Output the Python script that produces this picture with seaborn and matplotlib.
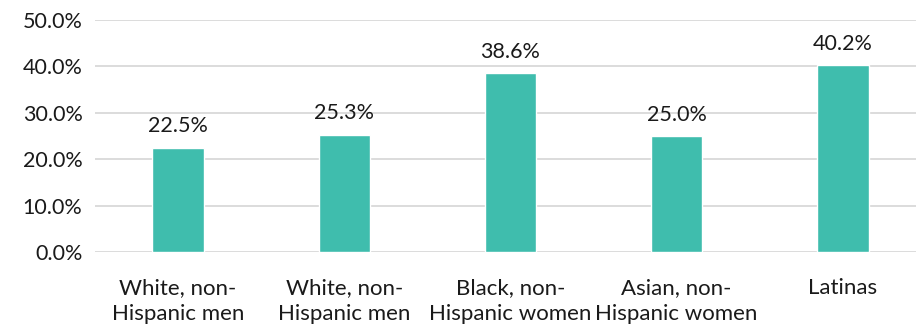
import matplotlib
matplotlib.use("Agg")
import matplotlib.pyplot as plt
import seaborn as sns
import pandas as pd

categories = [
    "White, non-\nHispanic men",
    "White, non-\nHispanic men",
    "Black, non-\nHispanic women",
    "Asian, non-\nHispanic women",
    "Latinas",
]
values = [22.5, 25.3, 38.6, 25.0, 40.2]
y_ticks = [0, 10, 20, 30, 40, 50]

sns.set_theme(style="white")
plt.rcParams["font.family"] = ["Lato", "DejaVu Sans"]

df = pd.DataFrame({"pos": range(len(values)), "value": values})

fig = plt.figure(figsize=(9.16, 3.25), dpi=100)
ax = fig.add_axes([95 / 916, 1 - 252 / 325, 1 - 95 / 916, (252 - 20) / 325])

sns.barplot(data=df, x="pos", y="value", color="#3FBDAD", width=0.31,
            saturation=1, ax=ax, zorder=3)

fs = 15.5
ax.set_ylim(0, 50)
ax.set_xlim(-0.5, 4.44)
ax.set_yticks(y_ticks)
ax.set_yticklabels([f"{t:.1f}%" for t in y_ticks], fontsize=fs, color="#1a1a1a")
ax.set_xticks(range(len(categories)))
ax.set_xticklabels(categories, fontsize=16, color="#1a1a1a", linespacing=1.38)
ax.tick_params(axis="both", length=0)
ax.tick_params(axis="y", pad=9)
ax.tick_params(axis="x", pad=19)
ax.set_xlabel("")
ax.set_ylabel("")

ax.grid(axis="y", color="#D9D9D9", linewidth=1.3, zorder=0)
for s in ax.spines.values():
    s.set_visible(False)

for i, v in enumerate(values):
    ax.annotate(f"{v:.1f}%", (i, v), xytext=(0, 8), textcoords="offset points",
                ha="center", va="bottom", fontsize=fs, color="#1a1a1a")

fig.savefig("out.png", dpi=100)
